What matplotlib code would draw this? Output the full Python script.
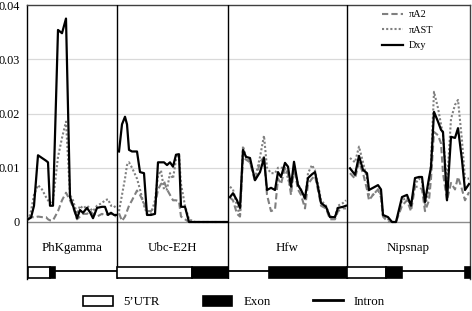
import matplotlib
matplotlib.use('Agg')
import matplotlib.pyplot as plt
from matplotlib.patches import Rectangle, Patch
from matplotlib.lines import Line2D
import numpy as np

plt.rcParams['font.family'] = ['Liberation Serif', 'DejaVu Serif']

# ---------------- data ----------------
genes = ['PhKgamma', 'Ubc-E2H', 'Hfw', 'Nipsnap']
gene_lengths = [90, 111, 119, 123]

phk_pos = [1, 4, 7, 11, 15, 19, 21, 23, 26, 31, 35, 39, 43, 46, 50, 53, 56, 60, 63, 66, 70, 75, 78, 81, 84, 87, 89]
phk_a2 = [0.0007, 0.001, 0.0008, 0.001, 0.0009, 0.0009, 0.0005, 0.0003, 0.0003, 0.002,
          0.004, 0.0054, 0.0040, 0.0028, 0.0005, 0.001, 0.0015, 0.0015, 0.002, 0.0015,
          0.001, 0.0015, 0.0012, 0.0015, 0.0015, 0.0012, 0.001]
phk_ast = [0.0003, 0.002, 0.005, 0.0068, 0.006, 0.0046, 0.004, 0.0035, 0.004, 0.012,
           0.0155, 0.0185, 0.005, 0.004, 0.0015, 0.003, 0.0025, 0.003, 0.0025, 0.002,
           0.003, 0.0035, 0.004, 0.0042, 0.003, 0.003, 0.0025]
phk_dxy = [0.0005, 0.0008, 0.003, 0.0123, 0.0118, 0.0113, 0.011, 0.003, 0.003, 0.0354,
           0.0348, 0.0375, 0.0046, 0.003, 0.0007, 0.0022, 0.0017, 0.0026, 0.0018, 0.0007,
           0.0026, 0.0028, 0.0028, 0.0013, 0.0017, 0.0013, 0.0013]

ubc_pos = [2, 5, 8, 10, 12, 15, 20, 23, 27, 30, 34, 38, 41, 44, 47, 50, 53, 56, 59, 62, 64, 68, 72, 78, 88, 98, 110]
ubc_a2 = [0.0016, 0.0002, 0.001, 0.002, 0.003, 0.004, 0.0058, 0.005, 0.0035, 0.002,
          0.002, 0.003, 0.006, 0.007, 0.0075, 0.006, 0.005, 0.004, 0.004, 0.0038,
          0.001, 0.0005, 0, 0, 0, 0, 0]
ubc_ast = [0.002, 0.005, 0.008, 0.0105, 0.011, 0.010, 0.008, 0.006, 0.003, 0.0015,
           0.0015, 0.004, 0.0085, 0.0095, 0.006, 0.006, 0.009, 0.008, 0.0115, 0.0125,
           0.007, 0.003, 0.0005, 0, 0, 0, 0]
ubc_dxy = [0.013, 0.018, 0.0194, 0.018, 0.0133, 0.013, 0.013, 0.0092, 0.009, 0.0013,
           0.0013, 0.0015, 0.011, 0.011, 0.011, 0.0105, 0.011, 0.0102, 0.0124, 0.0125,
           0.0028, 0.0028, 0, 0, 0, 0, 0]

hfw_pos = [2, 5, 9, 12, 15, 18, 22, 27, 32, 36, 39, 43, 47, 50, 53, 57, 60, 63, 66, 70,
           73, 77, 80, 84, 87, 91, 93, 98, 102, 107, 110, 115, 118]
hfw_a2 = [0.0045, 0.004, 0.0015, 0.001, 0.012, 0.0115, 0.011, 0.0075, 0.011, 0.012,
          0.005, 0.002, 0.0023, 0.008, 0.007, 0.010, 0.009, 0.005, 0.010, 0.006,
          0.005, 0.0025, 0.007, 0.008, 0.0085, 0.005, 0.003, 0.0025, 0.0005, 0.0005,
          0.002, 0.0025, 0.0025]
hfw_ast = [0.0065, 0.006, 0.003, 0.001, 0.014, 0.012, 0.011, 0.008, 0.012, 0.0159,
           0.010, 0.009, 0.009, 0.010, 0.010, 0.010, 0.008, 0.006, 0.010, 0.007,
           0.006, 0.004, 0.009, 0.0105, 0.0095, 0.006, 0.004, 0.003, 0.001, 0.001,
           0.003, 0.0035, 0.004]
hfw_dxy = [0.0046, 0.0053, 0.004, 0.0026, 0.0133, 0.012, 0.0118, 0.0077, 0.0092, 0.0118,
           0.0059, 0.0063, 0.0059, 0.0092, 0.0083, 0.0109, 0.0102, 0.0065, 0.0111, 0.0068,
           0.0059, 0.0044, 0.0081, 0.0088, 0.0092, 0.0055, 0.0035, 0.0028, 0.0009, 0.0009,
           0.0026, 0.0028, 0.003]

nip_pos = [3, 8, 12, 16, 20, 22, 26, 31, 34, 36, 41, 45, 49, 55, 60, 64, 68, 72, 75, 78,
           82, 84, 87, 91, 94, 96, 100, 104, 108, 111, 115, 118, 122]
nip_a2 = [0.009, 0.008, 0.011, 0.009, 0.006, 0.004, 0.005, 0.006, 0.0045, 0.001,
          0, 0, 0, 0.003, 0.004, 0.002, 0.0065, 0.0065, 0.006, 0.002,
          0.004, 0.008, 0.0166, 0.016, 0.0145, 0.009, 0.004, 0.0072, 0.006, 0.0083,
          0.006, 0.004, 0.0055]
nip_ast = [0.0118, 0.011, 0.0139, 0.011, 0.008, 0.005, 0.005, 0.006, 0.005, 0.001,
           0.0005, 0, 0, 0.004, 0.0045, 0.003, 0.007, 0.008, 0.0075, 0.003,
           0.006, 0.011, 0.024, 0.021, 0.018, 0.016, 0.007, 0.019, 0.0216, 0.0225,
           0.015, 0.008, 0.008]
nip_dxy = [0.0099, 0.0087, 0.0122, 0.0096, 0.009, 0.0059, 0.0063, 0.0068, 0.006, 0.0013,
           0.0009, 0, 0, 0.0046, 0.005, 0.003, 0.0081, 0.0083, 0.0083, 0.0037,
           0.0081, 0.0101, 0.0203, 0.0185, 0.017, 0.0166, 0.004, 0.0157, 0.0155, 0.0173,
           0.0114, 0.0059, 0.007]

# gene structure (local coordinates within each gene)
seg_gene = [0, 0, 0, 1, 1, 2, 2, 3, 3, 3, 3]
seg_kind = ['utr', 'exon', 'intron', 'utr', 'exon', 'intron', 'exon', 'utr', 'exon', 'intron', 'exon']
seg_start = [1, 23, 28, 0, 75, 0, 41, 0, 39, 55, 118]
seg_end = [23, 28, 90, 75, 111, 41, 119, 39, 55, 118, 123]

yticks = [0, 0.01, 0.02, 0.03, 0.04]
ytick_labels = ['0', '0.01', '0.02', '0.03', '0.04']
series_labels = ['\u03c0A2', '\u03c0AST', 'Dxy']
struct_labels = ['5\u2019UTR', 'Exon', 'Intron']

# ---------------- plot ----------------
W, H = 472, 311
fig = plt.figure(figsize=(W / 100, H / 100), dpi=100)
ax_top, ax_bot = 5, 279
ax = fig.add_axes([27 / W, 1 - ax_bot / H, 443 / W, (ax_bot - ax_top) / H])
ymax = 0.04
px_per_unit = (222 - ax_top) / ymax
ymin = -(ax_bot - 222) / px_per_unit
ax.set_xlim(0, sum(gene_lengths))
ax.set_ylim(ymin, ymax)

offsets = np.concatenate([[0], np.cumsum(gene_lengths)])

for yv in yticks[1:-1]:
    ax.axhline(yv, color='#d9d9d9', lw=0.9, zorder=0)
ax.axhline(0, color='#8c8c8c', lw=1.0, zorder=1)

all_pos = [phk_pos, ubc_pos, hfw_pos, nip_pos]
all_a2 = [phk_a2, ubc_a2, hfw_a2, nip_a2]
all_ast = [phk_ast, ubc_ast, hfw_ast, nip_ast]
all_dxy = [phk_dxy, ubc_dxy, hfw_dxy, nip_dxy]

grey = '#808080'
for gi in range(len(genes)):
    x = np.array(all_pos[gi]) + offsets[gi]
    la, = ax.plot(x, all_a2[gi], color=grey, lw=1.5, dashes=(3, 1.5), zorder=3)
    ls, = ax.plot(x, all_ast[gi], color=grey, lw=1.5, dashes=(1, 1), zorder=3)
    ld, = ax.plot(x, all_dxy[gi], color='black', lw=1.6, zorder=4)
    ax.text(offsets[gi] + gene_lengths[gi] / 2, -26 / px_per_unit, genes[gi],
            ha='center', va='center', fontsize=9.3)

for b in offsets[1:-1]:
    ax.axvline(b, color='black', lw=1.0, zorder=5)

# gene structures
box_top = -(267 - 222) / px_per_unit
box_bot = -(278 - 222) / px_per_unit
intr_y = -(270.5 - 222) / px_per_unit
for g, k, s, e in zip(seg_gene, seg_kind, seg_start, seg_end):
    x0 = offsets[g] + s
    x1 = offsets[g] + e
    if k == 'intron':
        ax.plot([x0, x1], [intr_y, intr_y], color='black', lw=1.3, zorder=6, clip_on=False)
    else:
        fc = 'white' if k == 'utr' else 'black'
        ax.add_patch(Rectangle((x0, box_bot), x1 - x0, box_top - box_bot,
                               facecolor=fc, edgecolor='black', lw=1.2, zorder=6, clip_on=False))

ax.set_yticks(yticks)
ax.set_yticklabels(ytick_labels, fontsize=8.8)
ax.set_xticks([])
ax.tick_params(axis='y', length=0, pad=5)
for side in ['top', 'right']:
    ax.spines[side].set_color('#404040')
    ax.spines[side].set_linewidth(1.0)
ax.spines['left'].set_color('black')
ax.spines['left'].set_linewidth(1.0)
ax.spines['bottom'].set_visible(False)

leg = ax.legend([la, ls, ld], series_labels, loc='upper left',
                bbox_to_anchor=(382 / W, 1 - 10 / H), bbox_transform=fig.transFigure,
                frameon=False, borderpad=0, borderaxespad=0, handlelength=2.1,
                handletextpad=0.5, labelspacing=0.65, fontsize=7.3)

handles = [Patch(facecolor='white', edgecolor='black', lw=1.2),
           Patch(facecolor='black', edgecolor='black', lw=1.2),
           Line2D([0], [0], color='black', lw=2)]
fig.legend(handles, struct_labels, loc='center left', ncol=3,
           bbox_to_anchor=(83 / W, 1 - 302 / H), frameon=False, borderpad=0,
           borderaxespad=0, handlelength=2.3, handleheight=0.9, handletextpad=0.85,
           columnspacing=3.3, fontsize=9.3)

fig.savefig('out.png', dpi=100)
